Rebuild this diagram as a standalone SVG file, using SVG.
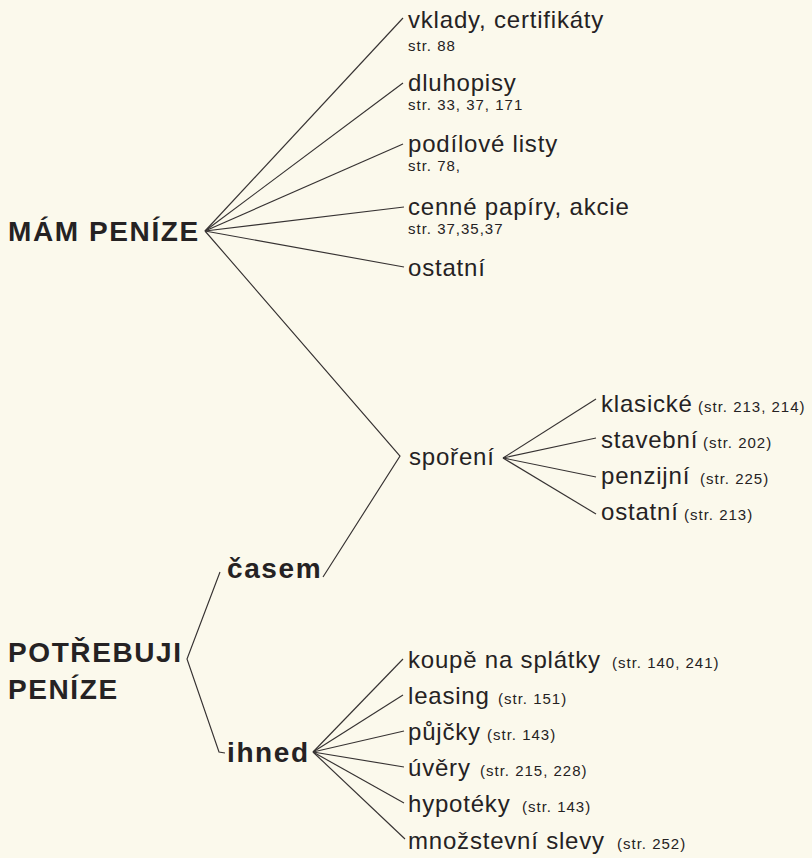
<svg xmlns="http://www.w3.org/2000/svg" width="812" height="858" viewBox="0 0 812 858">
<style>
text{font-family:"Liberation Sans",Arial,Helvetica,sans-serif;fill:#252223}
.b{font-size:28px;font-weight:bold;letter-spacing:1.6px}
.r{font-size:24px;letter-spacing:0.8px}
.s{font-size:15px;letter-spacing:1px}
.c line,.c polyline{stroke:#363232;stroke-width:1.15;fill:none}
</style>
<rect width="812" height="858" fill="#fbf9ec"/>
<g class="c" id="connectors">
<line x1="205" y1="231" x2="403" y2="18"/>
<line x1="205" y1="231" x2="403" y2="83"/>
<line x1="205" y1="231" x2="403" y2="144"/>
<line x1="205" y1="231" x2="404" y2="207"/>
<line x1="205" y1="231" x2="404" y2="267"/>
<polyline points="205,231 400,456 323,577"/>
<line x1="503" y1="458" x2="596" y2="399"/>
<line x1="503" y1="458" x2="596" y2="438"/>
<line x1="503" y1="458" x2="596" y2="477"/>
<line x1="503" y1="458" x2="596" y2="514"/>
<polyline points="220,572 187,659 219,752 225,753"/>
<line x1="313" y1="752" x2="403" y2="659"/>
<line x1="313" y1="752" x2="403" y2="695"/>
<line x1="313" y1="752" x2="404" y2="731"/>
<line x1="313" y1="752" x2="404" y2="767"/>
<line x1="313" y1="752" x2="404" y2="803"/>
<line x1="313" y1="752" x2="405" y2="839"/>
</g>
<g id="mam-penize"><text class="b" x="8" y="241">MÁM PENÍZE</text></g>
<g id="vklady"><text class="r" x="408" y="28">vklady, certifikáty</text><text class="s" x="408" y="51">str. 88</text></g>
<g id="dluhopisy"><text class="r" x="408" y="91">dluhopisy</text><text class="s" x="408" y="110">str. 33, 37, 171</text></g>
<g id="podilove"><text class="r" x="408" y="152">podílové listy</text><text class="s" x="408" y="171">str. 78,</text></g>
<g id="cenne"><text class="r" x="408" y="215">cenné papíry, akcie</text><text class="s" x="408" y="234">str. 37,35,37</text></g>
<g id="ostatni1"><text class="r" x="408" y="276">ostatní</text></g>
<g id="sporeni"><text class="r" x="409" y="465">spoření</text></g>
<g id="klasicke"><text class="r" x="601" y="412">klasické</text><text class="s" x="698" y="412">(str. 213, 214)</text></g>
<g id="stavebni"><text class="r" x="601" y="448">stavební</text><text class="s" x="703" y="448">(str. 202)</text></g>
<g id="penzijni"><text class="r" x="601" y="484">penzijní</text><text class="s" x="700" y="484">(str. 225)</text></g>
<g id="ostatni2"><text class="r" x="601" y="520">ostatní</text><text class="s" x="684" y="520">(str. 213)</text></g>
<g id="potrebuji"><text class="b" x="8" y="662">POTŘEBUJI</text><text class="b" x="8" y="699">PENÍZE</text></g>
<g id="casem"><text class="b" x="227" y="578">časem</text></g>
<g id="ihned"><text class="b" x="227" y="762">ihned</text></g>
<g id="koupe"><text class="r" x="408" y="668">koupě na splátky</text><text class="s" x="612" y="668">(str. 140, 241)</text></g>
<g id="leasing"><text class="r" x="408" y="704">leasing</text><text class="s" x="498" y="704">(str. 151)</text></g>
<g id="pujcky"><text class="r" x="408" y="740">půjčky</text><text class="s" x="487" y="740">(str. 143)</text></g>
<g id="uvery"><text class="r" x="408" y="776">úvěry</text><text class="s" x="480" y="776">(str. 215, 228)</text></g>
<g id="hypoteky"><text class="r" x="408" y="812">hypotéky</text><text class="s" x="522" y="812">(str. 143)</text></g>
<g id="mnozstevni"><text class="r" x="408" y="849">množstevní slevy</text><text class="s" x="617" y="849">(str. 252)</text></g>
</svg>
